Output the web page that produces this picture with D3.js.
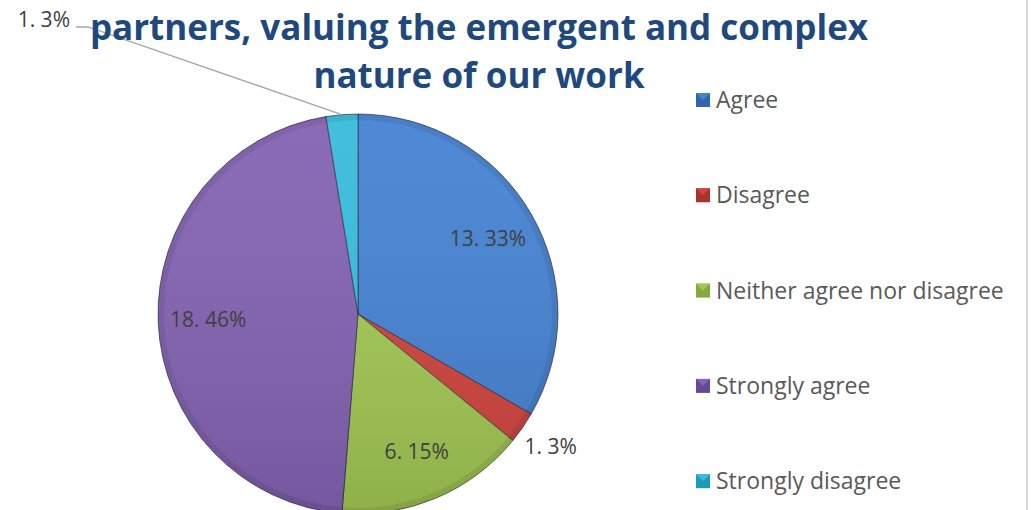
<!DOCTYPE html>
<html>
<head>
<meta charset="utf-8">
<script src="https://cdn.jsdelivr.net/npm/d3@7"></script>
<style>
  body { margin: 0; background: #fff; }
  text { font-family: "Open Sans", Lato, sans-serif; }
</style>
</head>
<body>
<script>
var svgWidth = 1032;
var svgHeight = 510;

// chart data
var categories = ["Agree", "Disagree", "Neither agree nor disagree", "Strongly agree", "Strongly disagree"];
var counts = [13, 1, 6, 18, 1];
var percents = [33, 3, 15, 46, 3];
var colors = [
    ["#4683d3", "#2f66ad"],
    ["#d0453f", "#a8322c"],
    ["#a3c954", "#84aa3f"],
    ["#8463b3", "#654992"],
    ["#38bcdc", "#2199b7"]
];
var titleLines = ["partners, valuing the emergent and complex", "nature of our work"];

var svg = d3.select("body").append("svg").attr("width", svgWidth).attr("height", svgHeight);

// right frame edge
svg.append("line")
    .attr("x1", 1027).attr("x2", 1027).attr("y1", 0).attr("y2", svgHeight)
    .attr("stroke", "#d9d9d9").attr("stroke-width", 2);

var cx = 358, cy = 314, radius = 200;

var defs = svg.append("defs");
var shade = defs.append("linearGradient").attr("id", "shade")
    .attr("x1", 0).attr("y1", 0).attr("x2", 0).attr("y2", 1);
shade.append("stop").attr("offset", "0%").attr("stop-color", "#fff").attr("stop-opacity", 0.05);
shade.append("stop").attr("offset", "100%").attr("stop-color", "#000").attr("stop-opacity", 0.12);

var pie = d3.pie().sort(null).value(function(d) { return d; });
var arcs = pie(counts);
var arc = d3.arc().innerRadius(0).outerRadius(radius);
var rim = d3.arc().innerRadius(radius - 6).outerRadius(radius);
var labelArc = d3.arc().innerRadius(150).outerRadius(150);
var outerArc = d3.arc().innerRadius(234).outerRadius(234);

var g = svg.append("g").attr("transform", "translate(" + cx + "," + cy + ")");

// slices
g.selectAll("path.slice").data(arcs).join("path")
    .attr("class", "slice")
    .attr("d", arc)
    .attr("fill", function(d, i) { return colors[i][0]; })
    .attr("stroke", "rgba(30,30,50,0.6)")
    .attr("stroke-width", 1);

// bevel rim (slightly darker edge)
g.selectAll("path.rim").data(arcs).join("path")
    .attr("class", "rim")
    .attr("d", rim)
    .attr("fill", "rgba(0,0,0,0.08)");

// vertical shading overlay
g.append("circle")
    .attr("r", radius - 0.5)
    .attr("fill", "url(#shade)");

// data labels
function labelText(i) { return counts[i] + ". " + percents[i] + "%"; }

g.selectAll("text.inside").data(arcs.filter(function(d) { return d.value > 3; })).join("text")
    .attr("class", "inside")
    .attr("transform", function(d) { return "translate(" + labelArc.centroid(d) + ")"; })
    .attr("text-anchor", "middle")
    .attr("dy", "0.35em")
    .attr("font-size", 21)
    .attr("fill", "#404040")
    .text(function(d) { return labelText(d.index); });

// Disagree label, outside
var dis = arcs[1];
g.append("text")
    .attr("transform", "translate(" + outerArc.centroid(dis) + ")")
    .attr("text-anchor", "middle")
    .attr("dy", "0.35em")
    .attr("font-size", 21)
    .attr("fill", "#404040")
    .text(labelText(1));

// Strongly disagree label with leader line
var sd = arcs[4];
var mid = (sd.startAngle + sd.endAngle) / 2;
var ex = Math.sin(mid) * radius, ey = -Math.cos(mid) * radius;
var lx = 88 - cx, ly = 27 - cy;
svg.append("polyline")
    .attr("transform", "translate(" + cx + "," + cy + ")")
    .attr("points", [ex, ey, lx, ly, lx - 12, ly].join(","))
    .attr("fill", "none")
    .attr("stroke", "#a6a6a6")
    .attr("stroke-width", 1.3);
svg.append("text")
    .attr("x", cx + lx - 18).attr("y", cy + ly - 7)
    .attr("text-anchor", "end")
    .attr("dy", "0.35em")
    .attr("font-size", 21)
    .attr("fill", "#404040")
    .text(labelText(4));

// title
svg.selectAll("text.title").data(titleLines).join("text")
    .attr("class", "title")
    .attr("x", 479)
    .attr("y", function(d, i) { return 40 + i * 48; })
    .attr("text-anchor", "middle")
    .attr("font-size", 35)
    .attr("font-weight", "bold")
    .attr("fill", "#1f497d")
    .text(function(d) { return d; });

// legend
var legend = svg.selectAll("g.legend").data(categories).join("g")
    .attr("class", "legend")
    .attr("transform", function(d, i) { return "translate(696," + (100 + i * 95.3) + ")"; });

legend.append("rect")
    .attr("x", 0).attr("y", -7).attr("width", 14).attr("height", 14)
    .attr("fill", function(d, i) { return colors[i][1]; });
legend.append("path")
    .attr("d", "M0,-7 L14,-7 L7,0 Z")
    .attr("fill", function(d, i) { return colors[i][0]; });

legend.append("text")
    .attr("x", 20)
    .attr("dy", "0.35em")
    .attr("font-size", 23)
    .attr("fill", "#595959")
    .text(function(d) { return d; });
</script>
</body>
</html>
